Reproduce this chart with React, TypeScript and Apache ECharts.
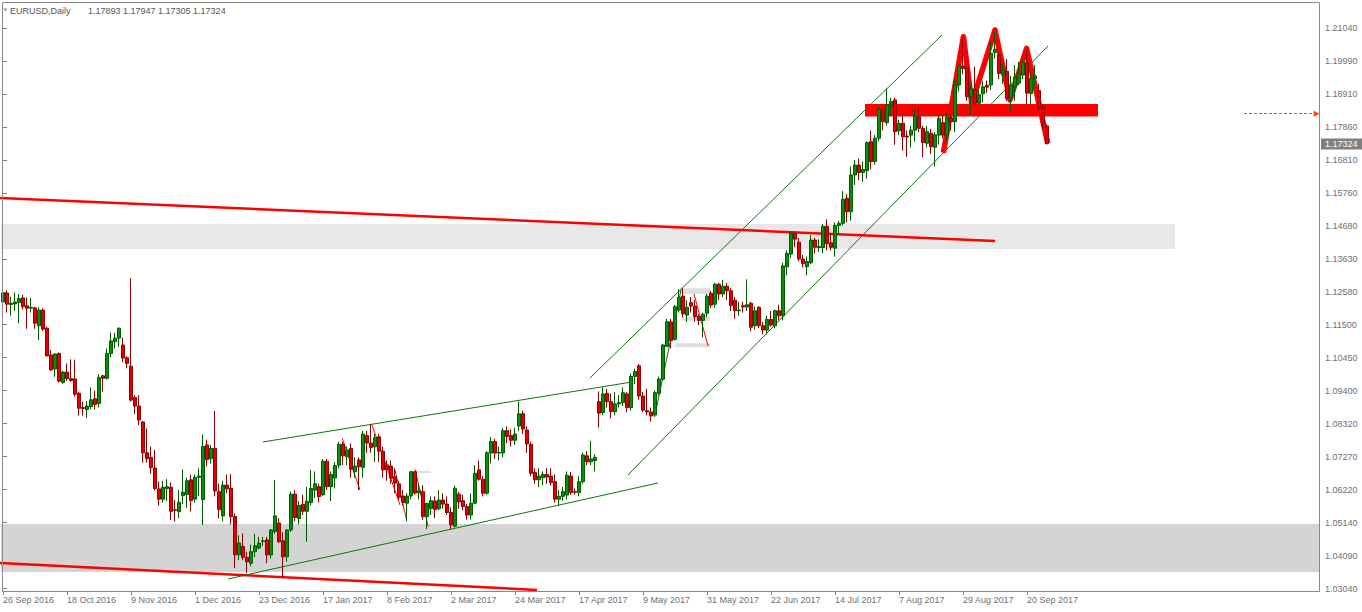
import React, { useEffect, useRef } from 'react';
import * as echarts from 'echarts';

const dateLabels = ['26 Sep 2016','18 Oct 2016','9 Nov 2016','1 Dec 2016','23 Dec 2016','17 Jan 2017','8 Feb 2017','2 Mar 2017','24 Mar 2017','17 Apr 2017','9 May 2017','31 May 2017','22 Jun 2017','14 Jul 2017','7 Aug 2017','29 Aug 2017','20 Sep 2017'];
const priceTickLabels = ['1.03040','1.04090','1.05140','1.06220','1.07270','1.08320','1.09400','1.10450','1.11500','1.12580','1.13630','1.14680','1.15760','1.16810','1.17860','1.18910','1.19990','1.21040'];

const opens = [
1.1224,1.1253,1.1216,1.1218,1.1222,1.1237,1.1212,1.1204,1.1205,1.1148,
1.1198,1.1140,1.1054,1.1009,1.1059,1.0965,1.0999,1.0978,1.0977,1.0931,
1.0885,1.0879,1.0888,1.0913,1.0898,1.0987,1.0979,1.1059,1.1097,1.1108,
1.1086,1.1045,1.1018,1.0917,1.0890,1.0839,1.0740,1.0725,1.0691,1.0624,
1.0591,1.0625,1.0629,1.0557,1.0551,1.0602,1.0606,1.0653,1.0591,1.0661,
1.0590,1.0765,1.0721,1.0754,1.0615,1.0537,1.0636,1.0626,1.0535,1.0412,
1.0439,1.0404,1.0385,1.0422,1.0434,1.0455,1.0460,1.0412,1.0487,1.0514,
1.0457,1.0406,1.0492,1.0607,1.0529,1.0574,1.0552,1.0580,1.0620,1.0631,
1.0605,1.0713,1.0631,1.0659,1.0700,1.0767,1.0728,1.0754,1.0679,1.0717,
1.0693,1.0795,1.0771,1.0759,1.0791,1.0745,1.0701,1.0697,1.0663,1.0640,
1.0601,1.0578,1.0601,1.0679,1.0611,1.0615,1.0535,1.0561,1.0585,1.0560,
1.0588,1.0575,1.0548,1.0504,1.0607,1.0586,1.0567,1.0540,1.0578,1.0685,
1.0655,1.0610,1.0739,1.0776,1.0739,1.0739,1.0811,1.0795,1.0780,1.0826,
1.0865,1.0813,1.0767,1.0677,1.0653,1.0660,1.0670,1.0665,1.0647,1.0591,
1.0600,1.0604,1.0665,1.0615,1.0612,1.0647,1.0730,1.0711,1.0715,1.0904,
1.0869,1.0931,1.0904,1.0872,1.0897,1.0901,1.0929,1.0885,1.0985,1.1019,
1.0922,1.0875,1.0871,1.0861,1.0931,1.0976,1.1081,1.1160,1.1104,1.1198,
1.1243,1.1182,1.1222,1.1211,1.1177,1.1165,1.1188,1.1252,1.1217,1.1281,
1.1250,1.1275,1.1260,1.1230,1.1196,1.1212,1.1208,1.1220,1.1148,1.1207,
1.1148,1.1134,1.1168,1.1148,1.1196,1.1180,1.1337,1.1378,1.1445,1.1416,
1.1362,1.1338,1.1350,1.1423,1.1399,1.1399,1.1467,1.1414,1.1397,1.1470,
1.1477,1.1557,1.1514,1.1632,1.1664,1.1640,1.1646,1.1739,1.1675,1.1750,
1.1843,1.1800,1.1857,1.1873,1.1774,1.1798,1.1757,1.1760,1.1776,1.1819,
1.1782,1.1734,1.1766,1.1721,1.1760,1.1800,1.1760,1.1815,1.1803,1.1921,
1.1982,1.1974,1.1883,1.1907,1.1862,1.1893,1.1920,1.1921,1.2025,1.2017,
1.1953,1.1965,1.1881,1.1915,1.1927,1.1953,1.1993,1.1894,1.1942,1.1903,
1.1850,1.17893];
const highs = [
1.1268,1.1262,1.1241,1.1255,1.1250,1.1247,1.1239,1.1237,1.1209,1.1207,
1.1204,1.1145,1.1070,1.1060,1.1062,1.1003,1.1027,1.1040,1.1039,1.0935,
1.0904,1.0906,1.0950,1.0940,1.0992,1.0990,1.1075,1.1126,1.1125,1.1142,
1.1110,1.1050,1.1300,1.0925,1.0925,1.0842,1.0818,1.0760,1.0749,1.0648,
1.0650,1.0655,1.0645,1.0588,1.0620,1.0687,1.0660,1.0670,1.0670,1.0690,
1.0799,1.0782,1.0765,1.0874,1.0641,1.0650,1.0670,1.0672,1.0545,1.0475,
1.0481,1.0422,1.0445,1.0480,1.0470,1.0470,1.0470,1.0495,1.0653,1.0530,
1.0485,1.0495,1.0615,1.0620,1.0585,1.0605,1.0630,1.0685,1.0680,1.0640,
1.0720,1.0720,1.0680,1.0710,1.0775,1.0775,1.0760,1.0770,1.0725,1.0725,
1.0810,1.0810,1.0831,1.0800,1.0800,1.0760,1.0715,1.0715,1.0690,1.0650,
1.0620,1.0610,1.0680,1.0680,1.0640,1.0635,1.0580,1.0600,1.0600,1.0620,
1.0610,1.0600,1.0565,1.0635,1.0615,1.0605,1.0575,1.0610,1.0700,1.0715,
1.0665,1.0745,1.0790,1.0785,1.0760,1.0820,1.0825,1.0815,1.0820,1.0904,
1.0875,1.0825,1.0775,1.0690,1.0690,1.0680,1.0690,1.0690,1.0670,1.0620,
1.0630,1.0680,1.0678,1.0625,1.0665,1.0740,1.0745,1.0778,1.0735,1.0937,
1.0950,1.0945,1.0930,1.0935,1.0925,1.0950,1.0935,1.0995,1.1010,1.1025,
1.0935,1.0945,1.0885,1.0940,1.0985,1.1090,1.1170,1.1170,1.1215,1.1265,
1.1268,1.1230,1.1240,1.1230,1.1185,1.1190,1.1250,1.1260,1.1285,1.1285,
1.1295,1.1285,1.1270,1.1240,1.1225,1.1225,1.1297,1.1225,1.1210,1.1210,
1.1160,1.1180,1.1195,1.1200,1.1215,1.1350,1.1390,1.1450,1.1450,1.1430,
1.1375,1.1370,1.1440,1.1430,1.1425,1.1475,1.1490,1.1445,1.1480,1.1485,
1.1580,1.1570,1.1660,1.1680,1.1685,1.1675,1.1740,1.1775,1.1760,1.1848,
1.1845,1.1910,1.1880,1.1880,1.1810,1.1830,1.1775,1.1790,1.1845,1.1850,
1.1790,1.1790,1.1780,1.1770,1.1825,1.1825,1.1830,1.1830,1.1940,1.1985,
1.2070,1.1980,1.1925,1.1980,1.1905,1.1935,1.1935,1.2060,1.2092,1.2025,
1.1990,1.2005,1.1950,1.1985,1.1995,1.2000,1.2035,1.1960,1.1985,1.1925,
1.1860,1.17947];
const lows = [
1.1212,1.1190,1.1180,1.1196,1.1156,1.1200,1.1138,1.1190,1.1138,1.1102,
1.1131,1.1050,1.1003,1.0984,1.0965,1.0962,1.0970,1.0968,1.0920,1.0859,
1.0859,1.0851,1.0880,1.0879,1.0885,1.0936,1.0975,1.1046,1.1075,1.1080,
1.1030,1.1011,1.0904,1.0864,1.0829,1.0708,1.0708,1.0672,1.0619,1.0570,
1.0580,1.0585,1.0524,1.0519,1.0530,1.0575,1.0563,1.0551,1.0580,1.0600,
1.0508,1.0696,1.0705,1.0600,1.0529,1.0520,1.0610,1.0510,1.0369,1.0395,
1.0395,1.0353,1.0375,1.0405,1.0430,1.0440,1.0385,1.0400,1.0480,1.0450,
1.0339,1.0390,1.0485,1.0520,1.0510,1.0540,1.0454,1.0570,1.0595,1.0580,
1.0600,1.0620,1.0585,1.0625,1.0690,1.0700,1.0700,1.0660,1.0660,1.0620,
1.0660,1.0740,1.0740,1.0710,1.0710,1.0660,1.0650,1.0640,1.0610,1.0590,
1.0570,1.0520,1.0590,1.0605,1.0590,1.0525,1.0495,1.0540,1.0530,1.0555,
1.0560,1.0540,1.0495,1.0500,1.0560,1.0555,1.0525,1.0525,1.0575,1.0650,
1.0600,1.0605,1.0705,1.0720,1.0715,1.0725,1.0770,1.0760,1.0765,1.0810,
1.0800,1.0740,1.0665,1.0640,1.0630,1.0635,1.0640,1.0635,1.0580,1.0570,
1.0585,1.0590,1.0605,1.0605,1.0600,1.0640,1.0700,1.0700,1.0680,1.0821,
1.0860,1.0885,1.0850,1.0860,1.0885,1.0890,1.0870,1.0875,1.0960,1.0910,
1.0870,1.0860,1.0840,1.0855,1.0925,1.0970,1.1080,1.1075,1.1100,1.1190,
1.1175,1.1160,1.1190,1.1160,1.1150,1.1110,1.1175,1.1205,1.1205,1.1230,
1.1240,1.1230,1.1195,1.1170,1.1180,1.1190,1.1195,1.1130,1.1135,1.1140,
1.1120,1.1120,1.1145,1.1140,1.1165,1.1165,1.1310,1.1365,1.1400,1.1355,
1.1335,1.1310,1.1345,1.1380,1.1385,1.1380,1.1390,1.1390,1.1370,1.1440,
1.1470,1.1480,1.1485,1.1600,1.1615,1.1610,1.1620,1.1650,1.1665,1.1740,
1.1775,1.1790,1.1825,1.1729,1.1760,1.1710,1.1690,1.1720,1.1740,1.1770,
1.1689,1.1720,1.1700,1.1660,1.1730,1.1750,1.1740,1.1775,1.1770,1.1900,
1.1955,1.1870,1.1825,1.1855,1.1860,1.1865,1.1895,1.1905,1.2005,1.1940,
1.1925,1.1870,1.1835,1.1870,1.1920,1.1940,1.1860,1.1860,1.1910,1.1840,
1.1780,1.17305];
const closes = [
1.1253,1.1217,1.1220,1.1224,1.1235,1.1209,1.1204,1.1207,1.1156,1.1198,
1.1137,1.1051,1.1006,1.1057,1.0970,1.0999,1.0978,1.0972,1.0928,1.0883,
1.0882,1.0890,1.0910,1.0895,1.0982,1.0979,1.1059,1.1099,1.1108,1.1140,
1.1044,1.1027,1.0909,1.0890,1.0845,1.0740,1.0721,1.0692,1.0625,1.0591,
1.0629,1.0631,1.0552,1.0555,1.0581,1.0613,1.0650,1.0587,1.0661,1.0665,
1.0760,1.0718,1.0754,1.0617,1.0558,1.0636,1.0624,1.0535,1.0412,1.0450,
1.0404,1.0390,1.0422,1.0441,1.0450,1.0457,1.0412,1.0492,1.0537,1.0455,
1.0406,1.0492,1.0607,1.0532,1.0571,1.0552,1.0584,1.0625,1.0640,1.0599,
1.0713,1.0631,1.0670,1.0699,1.0767,1.0730,1.0749,1.0687,1.0697,1.0695,
1.0800,1.0771,1.0757,1.0788,1.0745,1.0685,1.0685,1.0658,1.0642,1.0597,
1.0580,1.0601,1.0679,1.0611,1.0618,1.0535,1.0577,1.0586,1.0558,1.0588,
1.0575,1.0548,1.0508,1.0626,1.0582,1.0567,1.0540,1.0578,1.0674,1.0655,
1.0610,1.0740,1.0776,1.0739,1.0741,1.0811,1.0792,1.0780,1.0800,1.0865,
1.0816,1.0768,1.0674,1.0653,1.0665,1.0670,1.0662,1.0644,1.0591,1.0600,
1.0615,1.0668,1.0612,1.0613,1.0647,1.0733,1.0711,1.0720,1.0725,1.0867,
1.0929,1.0904,1.0872,1.0897,1.0901,1.0933,1.0885,1.0985,1.1001,1.0922,
1.0877,1.0871,1.0858,1.0933,1.0977,1.1086,1.1161,1.1100,1.1209,1.1239,
1.1186,1.1207,1.1211,1.1177,1.1165,1.1185,1.1243,1.1214,1.1281,1.1250,
1.1275,1.1260,1.1213,1.1196,1.1198,1.1208,1.1215,1.1143,1.1196,1.1148,
1.1134,1.1168,1.1150,1.1196,1.1180,1.1340,1.1380,1.1445,1.1426,1.1362,
1.1348,1.1354,1.1423,1.1400,1.1402,1.1467,1.1412,1.1400,1.1470,1.1477,
1.1554,1.1514,1.1632,1.1664,1.1640,1.1650,1.1736,1.1675,1.1750,1.1843,
1.1803,1.1857,1.1868,1.1771,1.1798,1.1755,1.1754,1.1776,1.1822,1.1782,
1.1736,1.1771,1.1723,1.1761,1.1814,1.1760,1.1817,1.1803,1.1921,1.1982,
1.1974,1.1883,1.1910,1.1862,1.1890,1.1915,1.1914,1.2023,1.2036,1.1958,
1.1969,1.1878,1.1921,1.1946,1.1959,1.1993,1.1895,1.1942,1.1950,1.1850,
1.1796,1.17324];

// drawn objects, in (bar index, price)
const redTrendLines = [
  [-0.75, 1.15581, 248, 1.142],
  [-0.75, 1.0386, 133.5, 1.02993],
];
const greenLines = [
  [146.75, 1.09801, 234.75, 1.20815],
  [156.25, 1.06686, 261.25, 1.20462],
  [65, 1.07746, 157.25, 1.09673],
  [56.25, 1.03346, 163.75, 1.06429],
  [163, 1.08613, 169.5, 1.12626],
];
const redThinLines = [
  [84.8, 1.07865, 89.25, 1.06204],
  [92.2, 1.08314, 99.25, 1.05723],
  [98, 1.06846, 100.9, 1.05241],
  [103, 1.06869, 106.3, 1.05026],
  [172.75, 1.12498, 176.25, 1.10828],
];
const patternPoints = [
  [235.1, 1.17036], [240.1, 1.20761], [242.2, 1.18622], [248, 1.20976],
  [251.75, 1.18728], [255.9, 1.20388], [261.2, 1.17338],
];
const resistance = [215.5, 273.75, 1.184];
const alertLine = [310.25, 328.4, 1.18288];
const wideZones = [
  [-0.5, 293, 1.14746, 1.13943],
  [-0.5, 329, 1.05112, 1.03571],
];
const smallZones = [
  [103, 107, 1.0682, 1.0675],
  [106.3, 107.8, 1.05506, 1.05432],
  [169.25, 176.75, 1.12681, 1.12498],
  [169.7, 176.75, 1.1177, 1.1164],
  [168, 176.75, 1.10915, 1.10787],
];

const FONT = '"Liberation Sans", Arial, sans-serif';
const AXIS_TEXT = '#6b7079';
const N_SLOTS = 330;
const P_TOP = 1.2104;
const P_BOT = 1.0304;
const PX_PER = 560.5 / (P_TOP - P_BOT);
const STEP = (P_TOP - P_BOT) / 17;

function buildOption() {
  const yMax = P_TOP + 26 / PX_PER;
  const yMin = P_BOT - 2.5 / PX_PER;
  const tickValues = priceTickLabels.map((_, k) => +(P_BOT + k * STEP).toFixed(7));
  const nBars = closes.length;
  const categories = Array.from({ length: N_SLOTS }, (_, i) =>
    i % 16 === 0 && i / 16 < dateLabels.length ? dateLabels[i / 16] : ''
  );
  const showAt = (i: number) => i % 16 === 0 && i / 16 < dateLabels.length;
  const candleData = opens.map((o, i) => [o, closes[i], lows[i], highs[i]]);

  const line = (data: number[][], color: string, width: number, z: number, extra: any = {}) => ({
    type: 'line', xAxisIndex: 1, yAxisIndex: 0, data, symbol: 'none', showSymbol: false,
    silent: true, animation: false, z,
    lineStyle: { color, width, cap: 'butt', join: 'round' },
    ...extra,
  });
  const seg = (l: number[]) => [[l[0], l[1]], [l[2], l[3]]];

  const series: any[] = [];
  series.push(line(seg(redTrendLines[0]), '#ff0000', 2.5, 2, {
    markArea: {
      silent: true,
      data: [
        [{ coord: [wideZones[0][0], wideZones[0][2]], itemStyle: { color: '#e8e8e8' } }, { coord: [wideZones[0][1], wideZones[0][3]] }],
        [{ coord: [wideZones[1][0], wideZones[1][2]], itemStyle: { color: '#d4d4d4' } }, { coord: [wideZones[1][1], wideZones[1][3]] }],
        ...smallZones.map((s) => [{ coord: [s[0], s[2]], itemStyle: { color: '#dedede' } }, { coord: [s[1], s[3]] }]),
      ],
    },
  }));
  series.push(line(seg(redTrendLines[1]), '#ff0000', 2.5, 3));
  greenLines.forEach((g) => series.push(line(seg(g), '#0a780a', 1, 3)));
  redThinLines.forEach((r) => series.push(line(seg(r), '#ff0000', 1, 3)));
  series.push(line([[resistance[0], resistance[2]], [resistance[1], resistance[2]]], '#ff0000', 12.5, 3, {
    markLine: {
      silent: true, animation: false,
      symbol: ['none', 'triangle'], symbolSize: [6, 6],
      lineStyle: { color: '#ff4500', type: [3, 2], width: 1 },
      label: { show: false },
      data: [[{ coord: [alertLine[0], alertLine[2]] }, { coord: [alertLine[1], alertLine[2]] }]],
    },
  }));
  series.push(line(patternPoints, '#ff0000', 5.5, 3));

  series.push({
    type: 'candlestick', xAxisIndex: 0, yAxisIndex: 0, data: candleData, barWidth: 3,
    silent: true, animation: false, z: 5,
    itemStyle: { color: '#0b8c0b', color0: '#e60000', borderColor: '#005a00', borderColor0: '#8b0000', borderWidth: 1 },
  });

  return {
    animation: false,
    backgroundColor: '#ffffff',
    grid: { left: 1, top: 2, width: N_SLOTS * 4, height: 589, containLabel: false, outerBoundsMode: 'none' },
    xAxis: [
      {
        type: 'category', data: categories, boundaryGap: true, gridIndex: 0,
        axisLine: { show: false },
        axisTick: { show: true, alignWithLabel: true, interval: (i: number) => showAt(i), length: 4, lineStyle: { color: '#808080' } },
        axisLabel: { interval: (i: number) => showAt(i), align: 'left', margin: 4, fontSize: 9, fontFamily: FONT, color: AXIS_TEXT },
        splitLine: { show: false },
      },
      { type: 'value', min: -0.5, max: N_SLOTS - 0.5, show: false, gridIndex: 0 },
    ],
    yAxis: [
      {
        type: 'value', position: 'right', min: yMin, max: yMax, offset: -2, scale: true,
        axisLine: { show: false },
        splitLine: { show: false },
        axisTick: { show: true, length: 4, lineStyle: { color: '#808080' }, customValues: tickValues },
        axisLabel: {
          customValues: tickValues, margin: 6, fontSize: 9, fontFamily: FONT, color: AXIS_TEXT,
          formatter: (v: number) => priceTickLabels[Math.round((v - P_BOT) / STEP)] ?? '',
        },
      },
    ],
    graphic: [
      { id: 'frame', type: 'rect', z: 100, silent: true, shape: { x: 2.5, y: 2.5, width: 1317, height: 589 }, style: { fill: 'none', stroke: '#8a8a8a', lineWidth: 1 } },
      { id: 'tri', type: 'polygon', z: 100, silent: true, shape: { points: [[3, 8.5], [7.5, 8.5], [5.25, 11.5]] }, style: { fill: '#9a9a9a' } },
      { id: 'sym', type: 'text', z: 100, silent: true, x: 10, y: 10.5, style: { text: 'EURUSD,Daily', fill: '#555555', fontSize: 9, fontFamily: FONT, verticalAlign: 'middle' } },
      { id: 'ohlc', type: 'text', z: 100, silent: true, x: 88, y: 10.5, style: { text: [opens[nBars - 1], highs[nBars - 1], lows[nBars - 1], closes[nBars - 1]].map((v) => v.toFixed(5)).join(' '), fill: '#555555', fontSize: 9, fontFamily: FONT, verticalAlign: 'middle' } },
    ],
    series,
  };
}

export default function App() {
  const ref = useRef<HTMLDivElement>(null);
  useEffect(() => {
    if (!ref.current) return;
    const chart = echarts.init(ref.current, null, { renderer: 'svg' });
    chart.setOption(buildOption() as any);
    const last = closes[closes.length - 1];
    const py = chart.convertToPixel({ yAxisIndex: 0 } as any, last) as number;
    chart.setOption({
      graphic: [
        { id: 'pbox', type: 'rect', z: 101, silent: true, shape: { x: 1321, y: Math.round(py) - 5.5, width: 41, height: 11 }, style: { fill: '#7f7f7f' } },
        { id: 'ptxt', type: 'text', z: 102, silent: true, x: 1325, y: Math.round(py), style: { text: last.toFixed(5), fill: '#ffffff', fontSize: 9, fontFamily: FONT, verticalAlign: 'middle' } },
      ],
    } as any);
    return () => chart.dispose();
  }, []);
  return <div ref={ref} style={{ position: 'fixed', left: 0, top: 0, width: 1362, height: 612, background: '#ffffff' }} />;
}
